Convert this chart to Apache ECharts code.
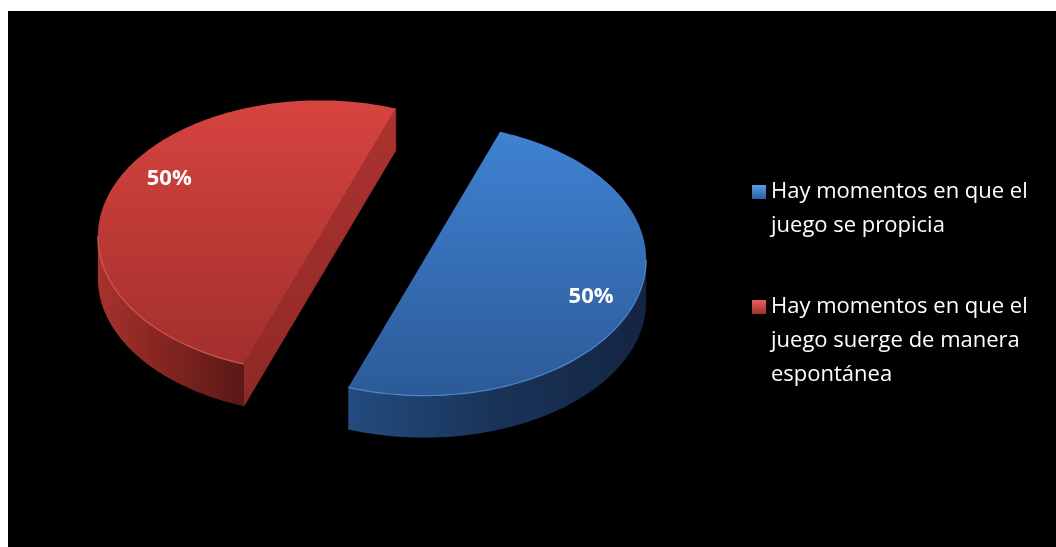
<!DOCTYPE html>
<html><head><meta charset="utf-8">
<script src="https://cdn.jsdelivr.net/npm/echarts@6/dist/echarts.min.js"></script>
<style>html,body{margin:0;padding:0;background:#fff;}#c{width:1056px;height:547px;}</style>
</head><body><div id="c"></div>
<script>
// ---- data ----
const CATEGORIES = ['Hay momentos en que el juego se propicia', 'Hay momentos en que el juego suerge de manera espontánea'];
const VALUES = [50, 50];
const TOTAL = VALUES.reduce((a, b) => a + b, 0);
const PCT_LABELS = VALUES.map(v => Math.round(v / TOTAL * 100) + '%');

// ---- layout / style ----
const PIE = { cx: 372, cy: 248, rx: 222, ry: 136, depth: 42, explode: 0.25, startAngle: 70, labelR: 0.8 };
const LABEL_ANGLE_SHIFT = [0, -12];
const STYLE = [
  { top: ['#3f82d3', '#2c5a97'], wall: ['#234c80', '#193358', '#142542'], cut: ['#2a5590', '#1c3c66'], rim: '#5a97de', legend: ['#5b9be6', '#2c5ea0'] },
  { top: ['#d6443f', '#a22f2c'], wall: ['#a8322e', '#80241f', '#5a1917'], cut: ['#ad3330', '#8e2825'], rim: '#e4645e', legend: ['#e4625c', '#a22f2c'] }
];
const FONT = '"Open Sans", "Noto Sans", sans-serif';

function lin(x2, y2, stops) {
  return { type: 'linear', x: 0, y: 0, x2: x2, y2: y2,
    colorStops: stops.map((c, i) => ({ offset: stops.length === 1 ? 0 : i / (stops.length - 1), color: c })) };
}
function linGlobal(x, y, x2, y2, stops) {
  return { type: 'linear', x: x, y: y, x2: x2, y2: y2, global: true,
    colorStops: stops.map((c, i) => ({ offset: stops.length === 1 ? 0 : i / (stops.length - 1), color: c })) };
}
const rad = d => d * Math.PI / 180;

function renderSlice(params, api) {
  const i = params.seriesIndex;
  const v = api.value(0);
  let cum = 0;
  for (let k = 0; k < i; k++) cum += VALUES[k];
  const s = PIE.startAngle - cum / TOTAL * 360;
  const e = s - v / TOTAL * 360;
  const mid = (s + e) / 2;
  const D = PIE.depth;
  const cx = PIE.cx + PIE.explode * PIE.rx * Math.cos(rad(mid));
  const cy = PIE.cy - PIE.explode * PIE.ry * Math.sin(rad(mid));
  const P = (th, h) => [cx + PIE.rx * Math.cos(rad(th)), cy - PIE.ry * Math.sin(rad(th)) + h];
  const arc = (a0, a1, h) => {
    const n = Math.max(2, Math.ceil(Math.abs(a1 - a0) / 1.5));
    const pts = [];
    for (let j = 0; j <= n; j++) pts.push(P(a0 + (a1 - a0) * j / n, h));
    return pts;
  };
  const st = STYLE[i];
  const under = [], over = [];
  const cutFill = linGlobal(0, cy - PIE.ry, 0, cy + PIE.ry + D, st.cut);
  // cut faces (only those facing the viewer)
  [[s, s + 90], [e, e - 90]].forEach(([th, n]) => {
    if (Math.sin(rad(n)) < -1e-6) {
      under.push({ type: 'polygon', shape: { points: [[cx, cy], P(th, 0), P(th, D), [cx, cy + D]] },
        style: { fill: cutFill, stroke: cutFill, lineWidth: 0.6 } });
    }
  });
  // outer wall, front half only
  for (let k = -2; k <= 2; k++) {
    const lo = Math.max(e, -180 + 360 * k), hi = Math.min(s, 360 * k);
    if (hi - lo > 0.01) {
      const topPts = arc(hi, lo, 0);
      const botPts = arc(lo, hi, D);
      under.push({ type: 'polygon', shape: { points: topPts.concat(botPts) },
        style: { fill: lin(1, 0, st.wall) } });
      over.push({ type: 'polyline', shape: { points: topPts },
        style: { stroke: st.rim, lineWidth: 1.2, fill: null, opacity: 0.8 } });
    }
  }
  const topFace = { type: 'polygon', shape: { points: [[cx, cy]].concat(arc(s, e, 0)) },
    style: { fill: lin(0, 1, st.top) } };
  const la = mid + LABEL_ANGLE_SHIFT[i];
  const label = { type: 'text', z2: 10,
    style: { text: PCT_LABELS[i], x: cx + PIE.labelR * PIE.rx * Math.cos(rad(la)), y: cy - PIE.labelR * PIE.ry * Math.sin(rad(la)),
      fill: '#fff', font: 'bold 22px ' + FONT, align: 'center', verticalAlign: 'middle' } };
  return { type: 'group', children: under.concat([topFace], over, [label]) };
}

const series = CATEGORIES.map((name, i) => ({
  type: 'custom', name: name, coordinateSystem: 'none',
  data: [[VALUES[i]]],
  itemStyle: { color: STYLE[i].top[0] },
  renderItem: renderSlice, silent: true
}));

const LH = 34;
function legendFor(i, top, lines) {
  return {
    data: [{ name: CATEGORIES[i], icon: 'rect', itemStyle: { color: lin(0, 1, STYLE[i].legend) } }],
    left: 752, top: top, orient: 'vertical', padding: 0, itemWidth: 14, itemHeight: 14,
    selectedMode: false,
    formatter: name => '\n'.repeat(lines - 1) + name,
    textStyle: { color: '#fff', fontFamily: FONT, fontSize: 22, lineHeight: LH,
      width: 275, overflow: 'break' }
  };
}

const chart = echarts.init(document.getElementById('c'));
chart.setOption({
  backgroundColor: '#fff',
  animation: false,
  graphic: [{ type: 'rect', shape: { x: 8, y: 11, width: 1048, height: 536 }, style: { fill: '#000' }, z: -10 }],
  legend: [legendFor(0, 141, 2), legendFor(1, 222, 3)],
  series: series
});
</script></body></html>
